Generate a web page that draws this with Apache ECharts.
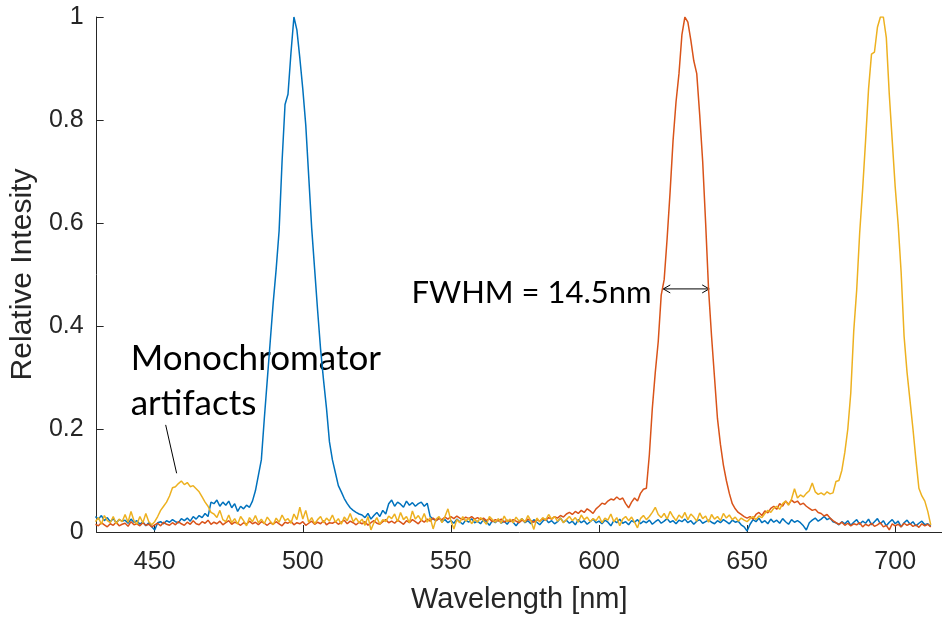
<!DOCTYPE html>
<html><head><meta charset="utf-8">
<script src="https://cdn.jsdelivr.net/npm/echarts@6/dist/echarts.min.js"></script>
<style>html,body{margin:0;padding:0;background:#fff}#c{width:942px;height:619px}</style>
</head><body><div id="c"></div>
<script>
// wavelength of first sample (nm); samples every 1 nm
const wlStart = 430;
const xTicks = [450, 500, 550, 600, 650, 700];
const yTicks = [0, 0.2, 0.4, 0.6, 0.8, 1];

const blue = [
0.030,0.025,0.032,0.022,0.028,0.020,0.026,0.018,0.024,0.021,
0.023,0.017,0.025,0.019,0.022,0.015,0.020,0.012,0.018,0.010,
0.004,0.018,0.020,0.016,0.022,0.019,0.024,0.020,0.018,0.026,
0.022,0.027,0.021,0.030,0.025,0.032,0.028,0.036,0.030,0.058,
0.055,0.062,0.050,0.058,0.052,0.060,0.047,0.055,0.040,0.050,
0.045,0.052,0.048,0.060,0.080,0.110,0.140,0.220,0.295,0.370,
0.445,0.510,0.585,0.720,0.830,0.850,0.930,1.000,0.975,0.920,
0.860,0.790,0.690,0.590,0.510,0.430,0.355,0.295,0.240,0.175,
0.140,0.115,0.090,0.078,0.065,0.055,0.047,0.042,0.038,0.035,
0.033,0.028,0.036,0.025,0.032,0.038,0.030,0.042,0.035,0.055,
0.062,0.050,0.058,0.054,0.048,0.060,0.052,0.057,0.050,0.055,
0.058,0.050,0.056,0.030,0.025,0.022,0.028,0.020,0.024,0.018,
0.022,0.017,0.025,0.020,0.015,0.023,0.019,0.026,0.018,0.021,
0.016,0.024,0.020,0.013,0.022,0.018,0.025,0.017,0.021,0.015,
0.023,0.019,0.012,0.020,0.026,0.018,0.022,0.016,0.024,0.019,
0.014,0.021,0.025,0.018,0.022,0.016,0.020,0.027,0.019,0.023,
0.017,0.021,0.014,0.024,0.018,0.022,0.015,0.020,0.025,0.018,
0.021,0.016,0.023,0.019,0.012,0.022,0.018,0.025,0.017,0.020,
0.014,0.022,0.019,0.024,0.016,0.021,0.018,0.023,0.015,0.020,
0.024,0.017,0.021,0.026,0.019,0.022,0.016,0.023,0.020,0.025,
0.018,0.022,0.015,0.021,0.024,0.017,0.020,0.023,0.019,0.016,
0.022,0.018,0.024,0.020,0.016,0.023,0.019,0.021,0.014,0.010,
0.002,0.015,0.024,0.020,0.027,0.018,0.022,0.016,0.025,0.019,
0.023,0.017,0.026,0.020,0.015,0.024,0.019,0.022,0.018,0.012,
0.004,0.018,0.023,0.027,0.021,0.025,0.030,0.024,0.027,0.020,
0.018,0.014,0.020,0.016,0.022,0.013,0.019,0.024,0.015,0.021,
0.017,0.025,0.014,0.020,0.026,0.016,0.022,0.012,0.019,0.024,
0.016,0.021,0.010,0.018,0.023,0.015,0.020,0.012,0.017,0.021,
0.014,0.016,0.011
];

const red = [
0.015,0.012,0.018,0.014,0.010,0.016,0.013,0.019,0.012,0.015,
0.017,0.011,0.020,0.014,0.016,0.012,0.018,0.013,0.015,0.010,
0.014,0.017,0.012,0.019,0.015,0.013,0.018,0.014,0.020,0.016,
0.013,0.019,0.015,0.022,0.016,0.014,0.020,0.017,0.023,0.015,
0.019,0.016,0.021,0.014,0.018,0.022,0.015,0.019,0.017,0.013,
0.018,0.015,0.021,0.016,0.019,0.014,0.020,0.017,0.013,0.018,
0.015,0.020,0.016,0.012,0.019,0.017,0.021,0.014,0.018,0.016,
0.020,0.013,0.017,0.021,0.015,0.019,0.016,0.022,0.014,0.018,
0.017,0.020,0.015,0.019,0.023,0.016,0.021,0.018,0.014,0.019,
0.016,0.020,0.013,0.018,0.022,0.017,0.015,0.020,0.024,0.018,
0.021,0.017,0.023,0.019,0.015,0.022,0.018,0.024,0.020,0.016,
0.023,0.019,0.025,0.021,0.027,0.022,0.026,0.024,0.029,0.025,
0.030,0.026,0.031,0.027,0.024,0.029,0.026,0.030,0.025,0.028,
0.024,0.027,0.022,0.026,0.020,0.024,0.021,0.025,0.019,0.023,
0.020,0.024,0.021,0.018,0.023,0.020,0.025,0.022,0.019,0.024,
0.021,0.026,0.023,0.028,0.025,0.030,0.027,0.032,0.029,0.035,
0.038,0.034,0.040,0.036,0.042,0.038,0.045,0.041,0.036,0.045,
0.050,0.056,0.054,0.060,0.064,0.062,0.068,0.063,0.066,0.055,
0.047,0.058,0.066,0.060,0.075,0.083,0.085,0.150,0.240,0.310,
0.370,0.460,0.490,0.570,0.660,0.760,0.835,0.890,0.966,1.000,
0.990,0.955,0.915,0.890,0.810,0.720,0.600,0.470,0.380,0.300,
0.220,0.170,0.130,0.100,0.075,0.055,0.045,0.038,0.034,0.030,
0.027,0.030,0.025,0.034,0.038,0.032,0.041,0.037,0.046,0.050,
0.044,0.055,0.050,0.060,0.054,0.062,0.057,0.060,0.053,0.056,
0.050,0.046,0.042,0.044,0.038,0.036,0.031,0.034,0.027,0.022,
0.018,0.015,0.019,0.013,0.017,0.012,0.016,0.014,0.018,0.010,
0.015,0.012,0.017,0.011,0.014,0.018,0.010,0.013,0.004,0.016,
0.012,0.015,0.010,0.017,0.013,0.016,0.011,0.014,0.009,0.016,
0.012,0.015,0.010
];

const yellow = [
0.020,0.028,0.015,0.032,0.022,0.018,0.030,0.016,0.025,0.020,
0.034,0.019,0.040,0.022,0.015,0.030,0.018,0.036,0.020,0.014,
0.020,0.030,0.042,0.050,0.058,0.070,0.086,0.088,0.094,0.099,
0.092,0.096,0.088,0.090,0.084,0.078,0.068,0.058,0.050,0.038,
0.035,0.028,0.042,0.024,0.020,0.033,0.018,0.026,0.015,0.030,
0.022,0.012,0.028,0.020,0.032,0.018,0.025,0.016,0.029,0.021,
0.014,0.027,0.019,0.033,0.022,0.026,0.017,0.035,0.024,0.048,
0.025,0.042,0.019,0.028,0.016,0.024,0.030,0.018,0.027,0.021,
0.033,0.019,0.026,0.015,0.029,0.022,0.036,0.020,0.027,0.018,
0.025,0.013,0.030,0.004,0.018,0.028,0.015,0.024,0.020,0.031,
0.026,0.035,0.020,0.038,0.024,0.030,0.018,0.041,0.025,0.032,
0.022,0.036,0.019,0.028,0.006,0.025,0.030,0.018,0.030,0.045,
0.022,0.006,0.024,0.018,0.030,0.021,0.027,0.016,0.025,0.019,
0.028,0.022,0.015,0.030,0.024,0.019,0.026,0.017,0.031,0.020,
0.025,0.018,0.029,0.021,0.026,0.019,0.032,0.022,0.005,0.027,
0.020,0.028,0.023,0.034,0.025,0.030,0.021,0.027,0.018,0.024,
0.030,0.022,0.028,0.019,0.033,0.024,0.029,0.020,0.026,0.022,
0.031,0.018,0.027,0.023,0.035,0.020,0.028,0.012,0.025,0.030,
0.022,0.029,0.019,0.008,0.026,0.032,0.024,0.030,0.038,0.048,
0.034,0.028,0.036,0.025,0.040,0.030,0.022,0.033,0.027,0.038,
0.024,0.035,0.029,0.021,0.037,0.026,0.031,0.019,0.034,0.025,
0.030,0.022,0.036,0.027,0.033,0.024,0.029,0.021,0.027,0.023,
0.020,0.026,0.030,0.024,0.031,0.028,0.036,0.042,0.038,0.046,
0.050,0.044,0.055,0.060,0.052,0.064,0.084,0.066,0.072,0.068,
0.075,0.080,0.095,0.078,0.073,0.076,0.072,0.078,0.074,0.076,
0.098,0.100,0.120,0.155,0.200,0.270,0.390,0.470,0.580,0.665,
0.760,0.860,0.928,0.932,0.980,1.000,1.000,0.960,0.850,0.760,
0.670,0.597,0.505,0.380,0.310,0.255,0.200,0.140,0.085,0.070,
0.060,0.040,0.014
];

// annotation anchors in data coordinates
const monoText = ['Monochromator', 'artifacts'];
const monoAnchor = [[441.9, 0.337], [441.9, 0.2485]];
const monoPointer = [[453.7, 0.208], [457.4, 0.114]];
const fwhmText = 'FWHM = 14.5nm';
const fwhmAnchor = [536.7, 0.464];
const fwhmArrow = [[621.7, 0.472], [637.2, 0.472]];

const toPairs = arr => arr.map((v, i) => [wlStart + i, v]);
const axisColor = '#262626';
const tickFont = 'Liberation Sans';

const chart = echarts.init(document.getElementById('c'), null, {renderer: 'canvas'});
chart.setOption({
  animation: false,
  grid: {left: 96, right: 0, top: 17, bottom: 87, containLabel: false},
  xAxis: {
    type: 'value', min: 430.4, max: 715.8,
    name: 'Wavelength [nm]', nameLocation: 'middle', nameGap: 53,
    nameTextStyle: {color: axisColor, fontSize: 29, fontFamily: tickFont},
    axisLine: {show: true, onZero: false, lineStyle: {color: axisColor, width: 1}},
    axisTick: {show: true, inside: true, length: 7, customValues: xTicks, lineStyle: {color: axisColor}},
    axisLabel: {customValues: xTicks, margin: 18, color: axisColor, fontSize: 25, fontFamily: tickFont},
    splitLine: {show: false}
  },
  yAxis: {
    type: 'value', min: 0, max: 1, interval: 0.2,
    name: 'Relative Intesity', nameLocation: 'middle', nameGap: 57,
    nameTextStyle: {color: axisColor, fontSize: 30, fontFamily: tickFont},
    axisLine: {show: true, lineStyle: {color: axisColor, width: 1}},
    axisTick: {show: true, inside: true, length: 7, customValues: yTicks, lineStyle: {color: axisColor}},
    axisLabel: {customValues: yTicks, margin: 13, color: axisColor, fontSize: 25, fontFamily: tickFont},
    splitLine: {show: false}
  },
  series: [
    {type: 'line', data: toPairs(blue), showSymbol: false, lineStyle: {color: '#0072BD', width: 1.5}, itemStyle: {color: '#0072BD'}, clip: true},
    {type: 'line', data: toPairs(red), showSymbol: false, lineStyle: {color: '#D95319', width: 1.5}, itemStyle: {color: '#D95319'}, clip: true},
    {type: 'line', data: toPairs(yellow), showSymbol: false, lineStyle: {color: '#EDB120', width: 1.5}, itemStyle: {color: '#EDB120'}, clip: true}
  ]
});

const px = p => chart.convertToPixel({gridIndex: 0}, p);
const monoFont = '35px Lato';
const fwhmFont = '31px Lato';
const g = [];
monoText.forEach((t, i) => {
  const p = px(monoAnchor[i]);
  g.push({type: 'text', x: p[0], y: p[1], style: {text: t, font: monoFont, fill: '#000', verticalAlign: 'middle', align: 'left'}});
});
const a = px(monoPointer[0]), b = px(monoPointer[1]);
g.push({type: 'line', shape: {x1: a[0], y1: a[1], x2: b[0], y2: b[1]}, style: {stroke: '#000', lineWidth: 1}});
const f = px(fwhmAnchor);
g.push({type: 'text', x: f[0], y: f[1], style: {text: fwhmText, font: fwhmFont, fill: '#000', verticalAlign: 'middle', align: 'left'}});
const l = px(fwhmArrow[0]), r = px(fwhmArrow[1]);
g.push({type: 'line', shape: {x1: l[0], y1: l[1], x2: r[0], y2: r[1]}, style: {stroke: '#000', lineWidth: 1}});
g.push({type: 'polyline', shape: {points: [[l[0] + 7, l[1] - 4], [l[0], l[1]], [l[0] + 7, l[1] + 4]]}, style: {stroke: '#000', lineWidth: 1, fill: null}});
g.push({type: 'polyline', shape: {points: [[r[0] - 7, r[1] - 4], [r[0], r[1]], [r[0] - 7, r[1] + 4]]}, style: {stroke: '#000', lineWidth: 1, fill: null}});
chart.setOption({graphic: g});
</script>
</body></html>
